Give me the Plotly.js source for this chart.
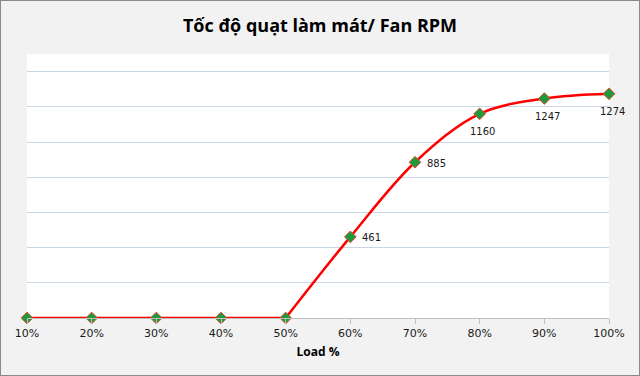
<!DOCTYPE html>
<html>
<head>
<meta charset="utf-8">
<script src="https://cdn.plot.ly/plotly-3.0.1.min.js"></script>
<style>
html,body{margin:0;padding:0;background:#f2f2f2;}
#chart{width:640px;height:376px;box-sizing:border-box;border:1px solid #8a8a8a;background:#f2f2f2;}
</style>
</head>
<body>
<div id="chart"></div>
<script>
const loads = ['10%','20%','30%','40%','50%','60%','70%','80%','90%','100%'];
const rpm = [0,0,0,0,0,461,885,1160,1247,1274];
const labelShow = [false,false,false,false,false,true,true,true,true,true];
const labelSide = ['','','','','','right','right','below','below','below'];

// index of the last zero before the rise
const riseStart = 4;

const flatTrace = {
  x: loads.slice(0, riseStart + 1),
  y: rpm.slice(0, riseStart + 1),
  type: 'scatter', mode: 'lines',
  line: {color: '#ff0000', width: 2.5},
  hoverinfo: 'none'
};
const curveTrace = {
  x: loads.slice(riseStart),
  y: rpm.slice(riseStart),
  type: 'scatter', mode: 'lines',
  line: {color: '#ff0000', width: 2.5, shape: 'spline', smoothing: 1},
  hoverinfo: 'none'
};
const markerTrace = {
  x: loads, y: rpm,
  type: 'scatter', mode: 'markers',
  marker: {symbol: 'diamond', size: 9, color: '#1e9a3c', line: {color: '#e04a2a', width: 1}},
  cliponaxis: false,
  hoverinfo: 'none'
};

const annotations = [];
loads.forEach((x, i) => {
  if (!labelShow[i]) return;
  const right = labelSide[i] === 'right';
  annotations.push({
    x: x, y: rpm[i], xref: 'x', yref: 'y',
    text: String(rpm[i]),
    showarrow: false,
    xanchor: right ? 'left' : 'center',
    yanchor: 'middle',
    xshift: right ? 10 : 3,
    yshift: right ? -1 : -18,
    font: {family: 'DejaVu Sans', size: 10, color: '#1a1a1a'}
  });
});

const layout = {
  width: 638,
  height: 374,
  paper_bgcolor: '#f2f2f2',
  plot_bgcolor: '#ffffff',
  margin: {l: 26, r: 30, t: 53, b: 57},
  showlegend: false,
  title: {
    text: '<b>Tốc độ quạt làm mát/ Fan RPM</b>',
    font: {family: 'Open Sans', size: 18, color: '#000000'},
    x: 0.5, xanchor: 'center', y: 0.935, yanchor: 'middle'
  },
  xaxis: {
    type: 'category',
    range: [0, 9],
    showgrid: false,
    showline: true,
    linecolor: '#bfbfbf',
    linewidth: 1,
    ticks: 'outside',
    ticklen: 5,
    tickcolor: '#bfbfbf',
    tickfont: {family: 'DejaVu Sans', size: 11, color: '#1a1a1a'},
    zeroline: false,
    title: {text: '<b>Load %</b>', font: {family: 'Open Sans', size: 12, color: '#000000'}, standoff: 8}
  },
  yaxis: {
    range: [0, 1500],
    dtick: 200,
    showticklabels: false,
    showgrid: true,
    gridcolor: '#c9d6ea',
    gridwidth: 1,
    zeroline: false,
    showline: false,
    ticks: ''
  },
  annotations: annotations
};

Plotly.newPlot('chart', [flatTrace, curveTrace, markerTrace], layout, {displayModeBar: false, staticPlot: true});
</script>
</body>
</html>
